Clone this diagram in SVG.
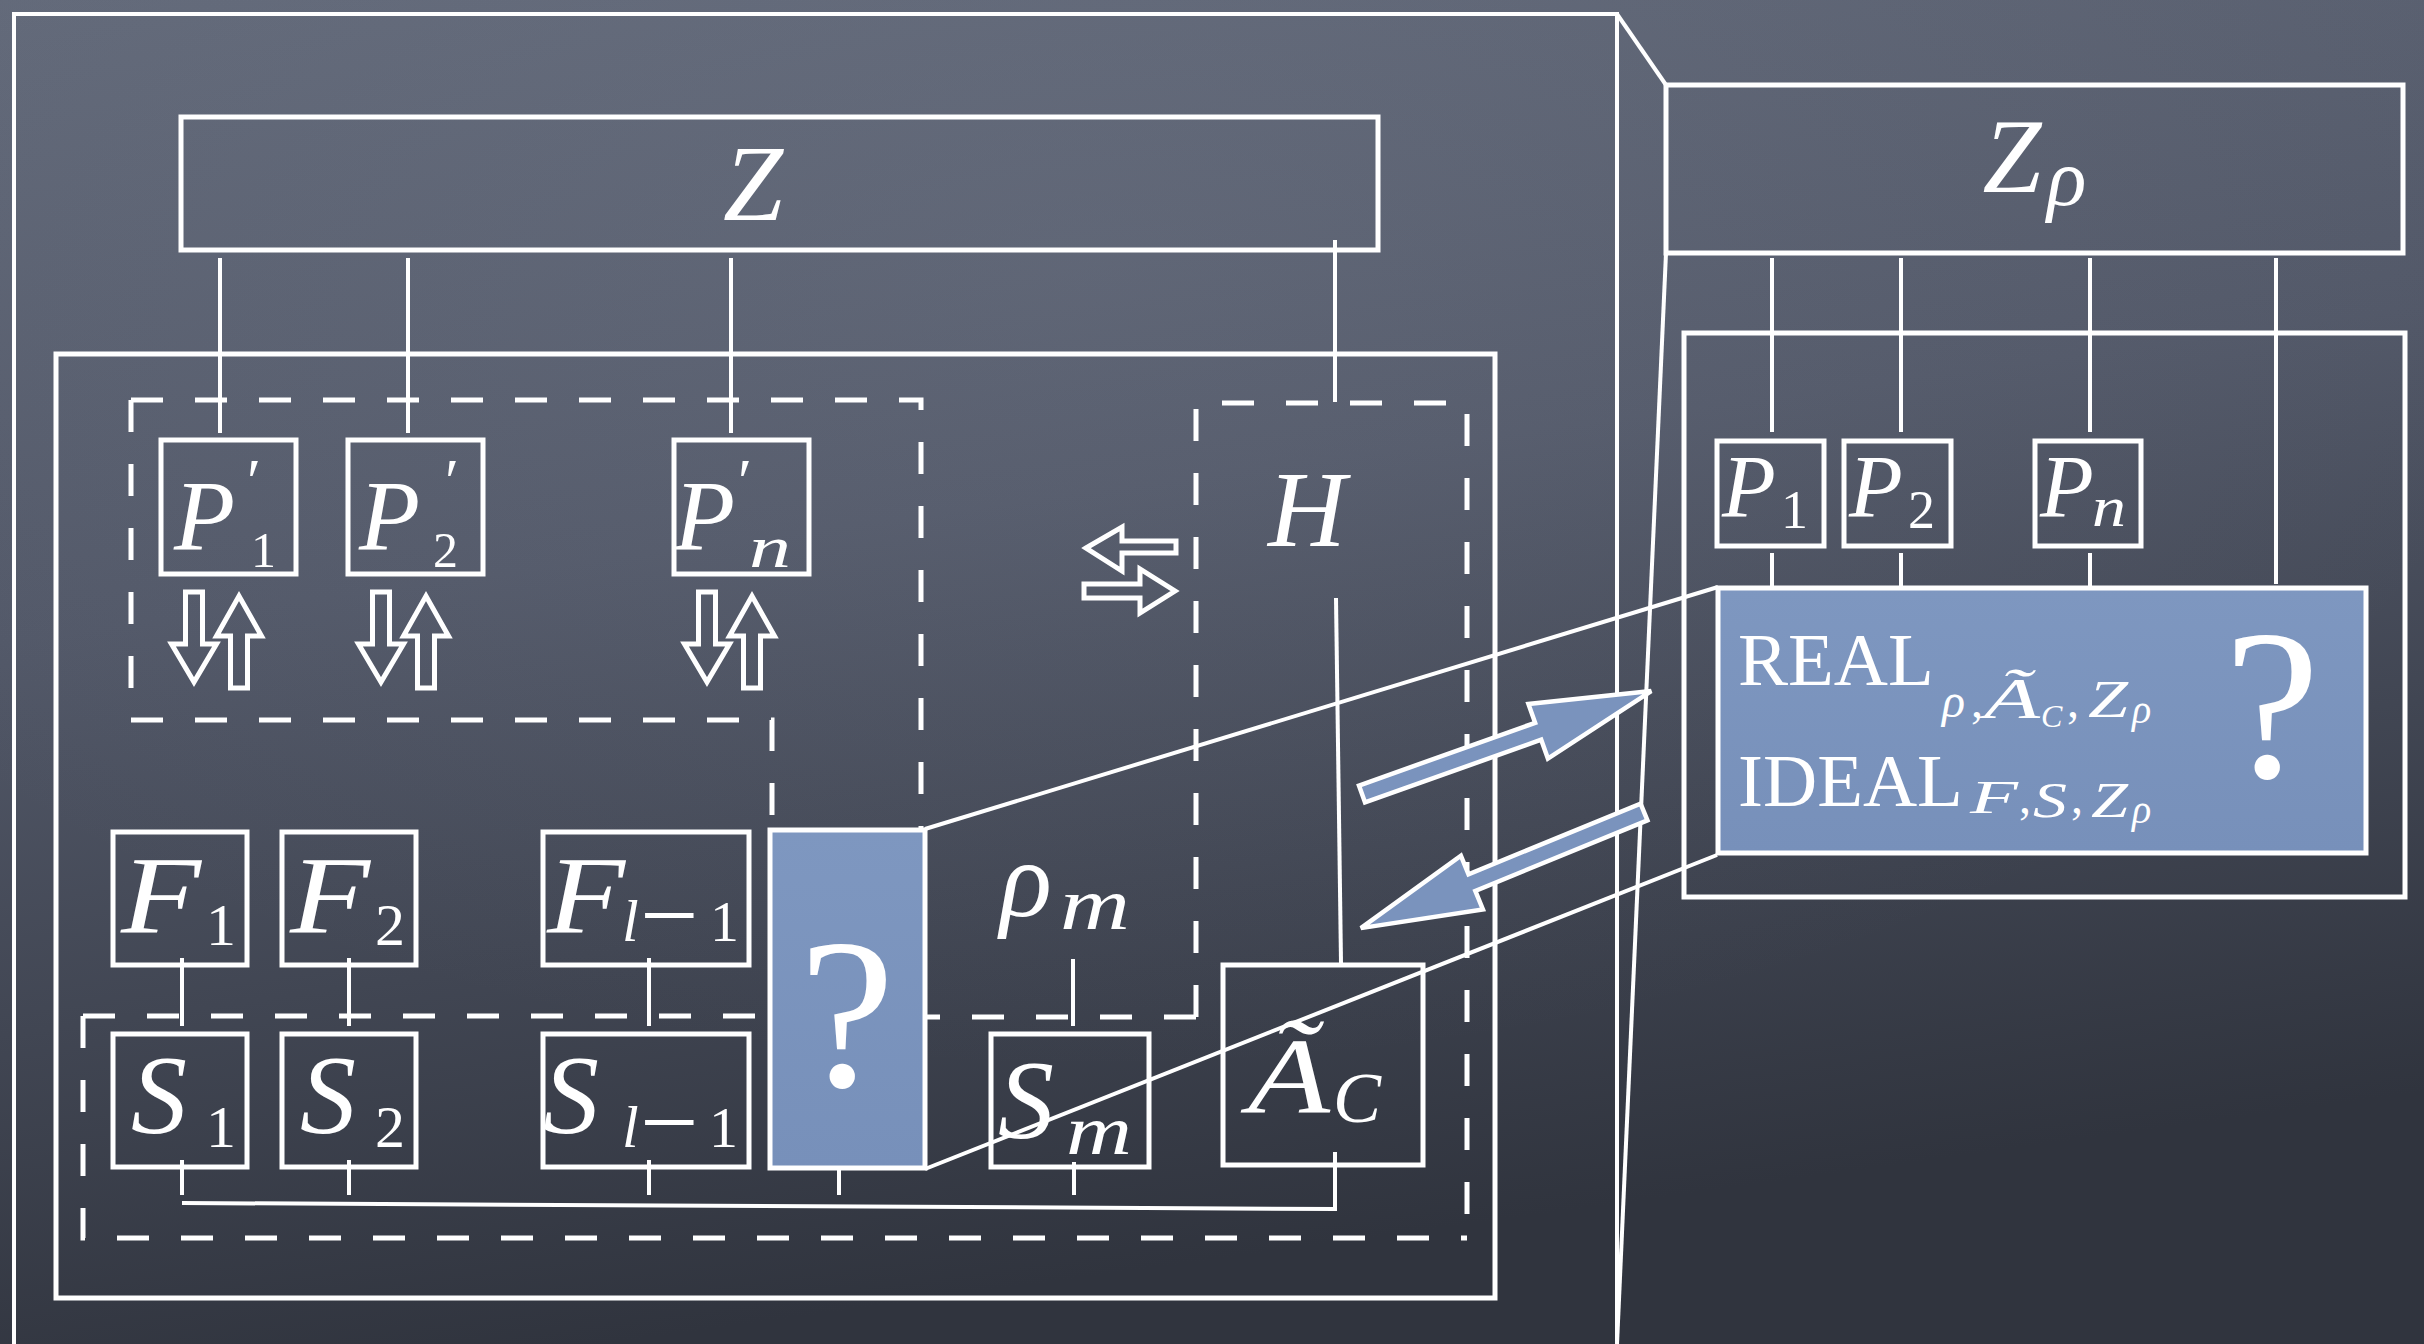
<svg xmlns="http://www.w3.org/2000/svg" width="2424" height="1344" viewBox="0 0 2424 1344">
<defs>
<linearGradient id="bg" x1="0" y1="0" x2="0.25" y2="1">
<stop offset="0" stop-color="#626979"/>
<stop offset="0.45" stop-color="#525868"/>
<stop offset="1" stop-color="#30343e"/>
</linearGradient>
<radialGradient id="hl" cx="0.45" cy="0.2" r="0.6">
<stop offset="0" stop-color="#8a92a3" stop-opacity="0.16"/>
<stop offset="1" stop-color="#8a92a3" stop-opacity="0"/>
</radialGradient>
<linearGradient id="bl" x1="0" y1="0" x2="0" y2="1">
<stop offset="0" stop-color="#7e97c0"/>
<stop offset="1" stop-color="#7790ba"/>
</linearGradient>
<path id="dn" d="M-8.5,0 H8.5 V52 H22.5 L0,90 L-22.5,52 H-8.5 Z"/>
<path id="up" d="M-8.5,0 H8.5 V-52 H22.5 L0,-92 L-22.5,-52 H-8.5 Z"/>
<style>
.bx{fill:none;stroke:#fff;stroke-width:5}
.fr{fill:none;stroke:#fff;stroke-width:4}
.cn{fill:none;stroke:#fff;stroke-width:4}
.ds{fill:none;stroke:#fff;stroke-width:5;stroke-dasharray:32 32}
.blue{fill:url(#bl);stroke:#fff;stroke-width:5}
.ha{fill:none;stroke:#fff;stroke-width:5}
.ar{fill:#7a93bd;stroke:#fff;stroke-width:4.5}
.m{font-family:"Liberation Serif","DejaVu Serif",serif;font-style:italic;fill:#fff}
.r{font-family:"Liberation Serif","DejaVu Serif",serif;fill:#fff}
</style>
</defs>
<rect width="2424" height="1344" fill="url(#bg)"/>
<rect width="2424" height="1344" fill="url(#hl)"/>

<g id="frames">
<path class="fr" d="M14,1344 V14 H1617 V1344"/>
<path class="fr" d="M1617,14 L1666,85"/>
<path class="fr" d="M1666,253 L1617,1344"/>
<rect class="bx" x="56" y="354" width="1439" height="944"/>
<rect class="bx" x="1684" y="333" width="721" height="564"/>
</g>

<g id="dashed">
<path class="ds" d="M131,400 H921 V828"/>
<path class="ds" d="M131,400 V720 H772 V828"/>
<path class="ds" d="M1196,1017 V403 H1467 V1238"/>
<path class="ds" d="M1196,1017 H927"/>
<path class="ds" d="M83,1016 V1238 H1467"/>
<path class="ds" d="M83,1016 H772"/>
</g>

<g id="connectors">
<path class="cn" d="M220,258 V433 M408,258 V433 M731,258 V433 M1335,240 V402"/>
<path class="cn" d="M1336,598 L1341,963"/>
<path class="cn" d="M182,958 V1026 M349,958 V1026 M649,958 V1026"/>
<path class="cn" d="M1073,959 V1026"/>
<path class="cn" d="M182,1160 V1195 M349,1160 V1195 M649,1160 V1195 M839,1167 V1195 M1074,1162 V1195"/>
<path class="cn" d="M182,1203 L1337,1209 M1335,1152 V1209"/>
<path class="cn" d="M1772,258 V432 M1901,258 V432 M2090,258 V432 M2276,258 V584"/>
<path class="cn" d="M1772,553 V592 M1901,553 V592 M2090,553 V592"/>
</g>

<g id="node-Z">
<rect class="bx" x="181" y="117" width="1197" height="133"/>
<text class="m" x="753" y="220" font-size="108" text-anchor="middle">Z</text>
</g>

<g id="node-P1p">
<rect class="bx" x="161" y="440" width="135" height="134"/>
<text class="m" x="174" y="549" font-size="100">P</text>
<text class="r" x="247" y="503" font-size="64">′</text>
<text class="r" x="251" y="567" font-size="50">1</text>
</g>
<g id="node-P2p">
<rect class="bx" x="348" y="440" width="135" height="134"/>
<text class="m" x="359" y="549" font-size="100">P</text>
<text class="r" x="445" y="503" font-size="64">′</text>
<text class="r" x="433" y="567" font-size="50">2</text>
</g>
<g id="node-Pnp">
<rect class="bx" x="674" y="440" width="135" height="134"/>
<text class="m" x="674" y="549" font-size="100">P</text>
<text class="r" x="738" y="503" font-size="64">′</text>
<text class="m" x="749" y="567" font-size="60" textLength="42" lengthAdjust="spacingAndGlyphs">n</text>
</g>

<g id="io-arrows">
<use href="#dn" class="ha" transform="translate(194,592)"/>
<use href="#up" class="ha" transform="translate(239,688)"/>
<use href="#dn" class="ha" transform="translate(381,592)"/>
<use href="#up" class="ha" transform="translate(426,688)"/>
<use href="#dn" class="ha" transform="translate(707,592)"/>
<use href="#up" class="ha" transform="translate(752,688)"/>
<path class="ha" d="M1086,548 L1122,527 V541 H1176 V553 H1122 V571 Z"/>
<path class="ha" d="M1084,584 H1140 V569 L1175,591 L1140,613 V598 H1084 Z"/>
</g>

<g id="node-H">
<text class="m" x="1268" y="546" font-size="108">H</text>
</g>
<g id="node-rho-m">
<text class="m" x="1000" y="916" font-size="108">ρ</text>
<text class="m" x="1060" y="929" font-size="74" textLength="70" lengthAdjust="spacingAndGlyphs">m</text>
</g>

<g id="node-F1">
<rect class="bx" x="113" y="832" width="134" height="133"/>
<text class="m" x="121" y="932" font-size="110" textLength="80" lengthAdjust="spacingAndGlyphs">F</text>
<text class="r" x="206" y="945" font-size="60">1</text>
</g>
<g id="node-F2">
<rect class="bx" x="282" y="832" width="134" height="133"/>
<text class="m" x="290" y="932" font-size="110" textLength="80" lengthAdjust="spacingAndGlyphs">F</text>
<text class="r" x="375" y="945" font-size="60">2</text>
</g>
<g id="node-Fl1">
<rect class="bx" x="543" y="832" width="206" height="133"/>
<text class="m" x="547" y="932" font-size="110" textLength="78" lengthAdjust="spacingAndGlyphs">F</text>
<text class="m" x="622" y="941" font-size="60">l</text>
<text class="r" x="640" y="950" font-size="104">−</text>
<text class="r" x="710" y="941" font-size="58">1</text>
</g>

<g id="node-S1">
<rect class="bx" x="113" y="1034" width="134" height="133"/>
<text class="m" x="131" y="1133" font-size="112">S</text>
<text class="r" x="206" y="1147" font-size="60">1</text>
</g>
<g id="node-S2">
<rect class="bx" x="282" y="1034" width="134" height="133"/>
<text class="m" x="300" y="1133" font-size="112">S</text>
<text class="r" x="375" y="1147" font-size="60">2</text>
</g>
<g id="node-Sl1">
<rect class="bx" x="543" y="1034" width="206" height="133"/>
<text class="m" x="543" y="1133" font-size="112">S</text>
<text class="m" x="622" y="1147" font-size="60">l</text>
<text class="r" x="640" y="1157" font-size="104">−</text>
<text class="r" x="709" y="1147" font-size="58">1</text>
</g>
<g id="node-Sm">
<rect class="bx" x="991" y="1034" width="158" height="133"/>
<text class="m" x="998" y="1138" font-size="112">S</text>
<text class="m" x="1066" y="1154" font-size="70" textLength="66" lengthAdjust="spacingAndGlyphs">m</text>
</g>
<g id="node-AC">
<rect class="bx" x="1223" y="965" width="200" height="200"/>
<text class="m" x="1248" y="1113" font-size="108" textLength="82" lengthAdjust="spacingAndGlyphs">Ã</text>
<text class="m" x="1333" y="1122" font-size="72">C</text>
</g>

<g id="node-Q">
<rect class="blue" x="770" y="830" width="155" height="338"/>
<text class="r" x="847" y="1086" font-size="215" text-anchor="middle">?</text>
</g>

<g id="node-Zrho">
<rect class="bx" x="1666" y="85" width="737" height="168"/>
<text class="m" x="2012" y="192" font-size="106" text-anchor="middle">Z</text>
<text class="m" x="2047" y="205" font-size="82">ρ</text>
</g>
<g id="node-P1">
<rect class="bx" x="1717" y="441" width="107" height="105"/>
<text class="m" x="1722" y="516" font-size="88">P</text>
<text class="r" x="1781" y="528" font-size="54">1</text>
</g>
<g id="node-P2">
<rect class="bx" x="1844" y="441" width="107" height="105"/>
<text class="m" x="1849" y="516" font-size="88">P</text>
<text class="r" x="1908" y="528" font-size="54">2</text>
</g>
<g id="node-Pn">
<rect class="bx" x="2035" y="441" width="106" height="105"/>
<text class="m" x="2040" y="516" font-size="88">P</text>
<text class="m" x="2092" y="526" font-size="56" textLength="34" lengthAdjust="spacingAndGlyphs">n</text>
</g>

<g id="node-REAL">
<rect class="blue" x="1718" y="588" width="648" height="265"/>
<text class="r" x="1738" y="685" font-size="75">REAL</text>
<text class="m" x="1942" y="717" font-size="48">ρ</text>
<text class="r" x="1971" y="717" font-size="48">,</text>
<text class="m" x="1984" y="718" font-size="56" textLength="56" lengthAdjust="spacingAndGlyphs">Ã</text>
<text class="m" x="2041" y="727" font-size="32">C</text>
<text class="r" x="2067" y="717" font-size="48">,</text>
<text class="m" x="2088" y="717" font-size="53" textLength="40" lengthAdjust="spacingAndGlyphs">Z</text>
<text class="m" x="2132" y="723" font-size="40">ρ</text>
<text class="r" x="1738" y="806" font-size="75">IDEAL</text>
<text class="m" x="1970" y="813" font-size="46" textLength="48" lengthAdjust="spacingAndGlyphs">F</text>
<text class="r" x="2019" y="813" font-size="48">,</text>
<text class="m" x="2033" y="817" font-size="51" textLength="34" lengthAdjust="spacingAndGlyphs">S</text>
<text class="r" x="2071" y="813" font-size="48">,</text>
<text class="m" x="2091" y="817" font-size="51" textLength="37" lengthAdjust="spacingAndGlyphs">Z</text>
<text class="m" x="2132" y="823" font-size="40">ρ</text>
<text class="r" x="2272" y="777" font-size="215" text-anchor="middle">?</text>
</g>

<g id="callout">
<path class="cn" d="M925,829 L1718,587"/>
<path class="cn" d="M925,1169 L1717,855"/>
</g>

<g id="exchange">
<polygon class="ar" points="0,-9 187,-9 187,-29 307,0 187,29 187,9 0,9" transform="translate(1362,794) rotate(-19.6)"/>
<polygon class="ar" points="0,-9 186,-9 186,-29 306,0 186,29 186,9 0,9" transform="translate(1644,812) rotate(157.7)"/>
</g>
</svg>
